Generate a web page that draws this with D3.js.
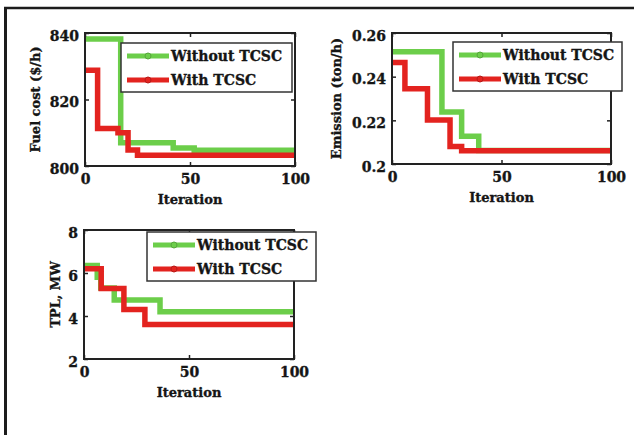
<!DOCTYPE html>
<html><head><meta charset="utf-8">
<script src="https://cdn.jsdelivr.net/npm/d3@7"></script>
<style>
html,body{margin:0;padding:0;background:#fff;}
svg{display:block;}
text{font-family:"DejaVu Serif",serif;font-weight:bold;fill:#151515;stroke:#151515;stroke-width:0.35px;}
</style></head>
<body>
<svg id="c" width="634" height="435"></svg>
<script>
// ---------- data ----------
const seriesNames = ["Without TCSC", "With TCSC"];
const xTicks = [0, 50, 100];

// Fuel cost panel
const fuelTicks = [800, 820, 840];
const fuelIterWithout = [0, 17, 42, 52, 100];
const fuelWithout     = [838.2, 807, 805.4, 804.7, 804.7];
const fuelIterWith    = [0, 6, 15.7, 20.5, 25, 100];
const fuelWith        = [828.8, 811.3, 810, 804.8, 803.2, 803.2];

// Emission panel
const emisTicks = [0.2, 0.22, 0.24, 0.26];
const emisTickLabels = ["0.2", "0.22", "0.24", "0.26"];
const emisIterWithout = [0, 22.8, 31.8, 39.6, 100];
const emisWithout     = [0.2514, 0.2238, 0.2127, 0.2062, 0.2062];
const emisIterWith    = [0, 5.9, 16.2, 26.5, 31.8, 100];
const emisWith        = [0.2465, 0.2345, 0.2202, 0.2080, 0.2061, 0.2061];

// TPL panel
const tplTicks = [2, 4, 6, 8];
const tplIterWithout = [0, 6.3, 8, 14.4, 36.2, 100];
const tplWithout     = [6.35, 5.8, 5.3, 4.75, 4.2, 4.2];
const tplIterWith    = [0, 8.2, 19, 29, 100];
const tplWith        = [6.2, 5.28, 4.3, 3.6, 3.6];

// ---------- style ----------
const GREEN = "#6cce4a", RED = "#e3231f", INK = "#222";

const svg = d3.select("#c");

// outer frame (left + top)
svg.append("line").attr("x1",5.5).attr("x2",5.5).attr("y1",7).attr("y2",435)
  .attr("stroke","#1c1c1c").attr("stroke-width",3);
svg.append("line").attr("x1",4).attr("x2",634).attr("y1",8).attr("y2",8)
  .attr("stroke","#1c1c1c").attr("stroke-width",2.5);

function toPts(xs, ys){ return xs.map((x,i)=>[x, ys[i]]); }

function panel(cfg){
  const x = d3.scaleLinear().domain([0,100]).range([cfg.left, cfg.right]);
  const y = d3.scaleLinear().domain(cfg.yDomain).range([cfg.bottom, cfg.top]);
  const g = svg.append("g");

  // lines
  const line = d3.line().x(d=>x(d[0])).y(d=>y(d[1])).curve(d3.curveStepAfter);
  [[cfg.without, GREEN],[cfg.with, RED]].forEach(([pts,col])=>{
    g.append("path").attr("d", line(pts)).attr("fill","none")
      .attr("stroke", col).attr("stroke-width", 5.5).attr("stroke-linejoin","miter");
  });

  // axes box
  g.append("rect").attr("x",cfg.left).attr("y",cfg.top)
    .attr("width",cfg.right-cfg.left).attr("height",cfg.bottom-cfg.top)
    .attr("fill","none").attr("stroke",INK).attr("stroke-width",2);

  // axes with inward ticks on all four sides
  const xa = d3.axisBottom(x).tickValues(xTicks).tickSize(-4).tickPadding(8).tickFormat(d3.format("d"));
  const xg = g.append("g").attr("transform",`translate(0,${cfg.bottom})`).call(xa);
  const xt = d3.axisTop(x).tickValues(xTicks).tickSize(-4).tickFormat("");
  const xtg = g.append("g").attr("transform",`translate(0,${cfg.top})`).call(xt);
  const ya = d3.axisLeft(y).tickValues(cfg.yTicks).tickSize(-4).tickPadding(6)
    .tickFormat((d,i)=>cfg.yLabels ? cfg.yLabels[i] : d3.format("d")(d));
  const yg = g.append("g").attr("transform",`translate(${cfg.left},0)`).call(ya);
  const yr = d3.axisRight(y).tickValues(cfg.yTicks).tickSize(-4).tickFormat("");
  const yrg = g.append("g").attr("transform",`translate(${cfg.right},0)`).call(yr);
  [xg,xtg,yg,yrg].forEach(a=>{
    a.select(".domain").remove();
    a.selectAll("line").attr("stroke",INK).attr("stroke-width",1.5);
    a.selectAll("text").attr("font-family","DejaVu Serif").attr("font-weight","bold")
      .attr("font-size",14).attr("fill","#151515");
  });
  yg.selectAll("text").attr("dy","0.5em");

  // axis titles
  g.append("text").attr("x",(cfg.left+cfg.right)/2).attr("y",cfg.bottom+38)
    .attr("text-anchor","middle").attr("font-size",13).text("Iteration");
  g.append("text").attr("transform",`translate(${cfg.yLabelX},${(cfg.top+cfg.bottom)/2}) rotate(-90)`)
    .attr("text-anchor","middle").attr("font-size",13).text(cfg.yTitle);

  // legend
  const L = cfg.legend;
  const lg = g.append("g").attr("transform",`translate(${L.x},${L.y})`);
  lg.append("rect").attr("width",L.w).attr("height",49).attr("fill","#fff")
    .attr("stroke","#333").attr("stroke-width",1.5);
  [GREEN, RED].forEach((col,i)=>{
    const yy = 13 + i*24;
    lg.append("line").attr("x1",6).attr("x2",48).attr("y1",yy).attr("y2",yy)
      .attr("stroke",col).attr("stroke-width",5);
    lg.append("circle").attr("cx",27).attr("cy",yy).attr("r",3).attr("fill",col)
      .attr("stroke", d3.color(col).darker(0.6)).attr("stroke-width",1);
    lg.append("text").attr("x",50).attr("y",yy+5).attr("font-size",14).text(seriesNames[i]);
  });
}

panel({
  left:85, right:295, top:33, bottom:166,
  yDomain:[800,840], yTicks:fuelTicks, yTitle:"Fuel cost ($/h)", yLabelX:40,
  without: toPts(fuelIterWithout, fuelWithout), with: toPts(fuelIterWith, fuelWith),
  legend:{x:121, y:43, w:171}
});
panel({
  left:392, right:611, top:33, bottom:164,
  yDomain:[0.2,0.26], yTicks:emisTicks, yLabels:emisTickLabels, yTitle:"Emission (ton/h)", yLabelX:341,
  without: toPts(emisIterWithout, emisWithout), with: toPts(emisIterWith, emisWith),
  legend:{x:453, y:42, w:169}
});
panel({
  left:84, right:294, top:230, bottom:359,
  yDomain:[2,8], yTicks:tplTicks, yTitle:"TPL, MW", yLabelX:60,
  without: toPts(tplIterWithout, tplWithout), with: toPts(tplIterWith, tplWith),
  legend:{x:147, y:232, w:169}
});
</script>
</body></html>
